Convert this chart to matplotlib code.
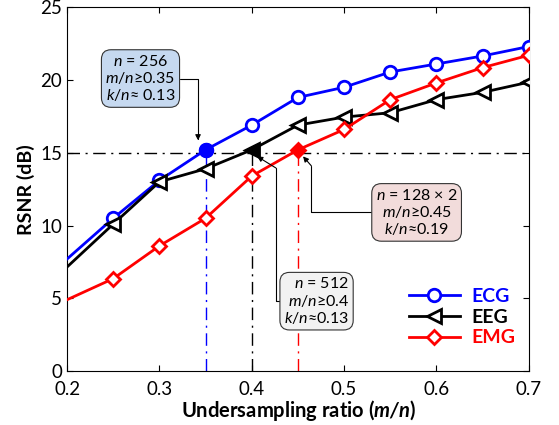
import numpy as np
import matplotlib
matplotlib.use("Agg")
import matplotlib.pyplot as plt

plt.rcParams['font.family'] = ['Lato', 'DejaVu Sans']
plt.rcParams['mathtext.fontset'] = 'custom'
plt.rcParams['mathtext.rm'] = 'Lato'
plt.rcParams['mathtext.it'] = 'Lato:italic'
plt.rcParams['mathtext.bf'] = 'Lato:bold'
plt.rcParams['mathtext.bfit'] = 'Lato:bold:italic'

# data
ratio = [0.2, 0.25, 0.3, 0.35, 0.4, 0.45, 0.5, 0.55, 0.6, 0.65, 0.7]
ecg = [7.7, 10.5, 13.1, 15.2, 16.9, 18.8, 19.5, 20.55, 21.1, 21.65, 22.3]
eeg = [7.15, 10.1, 13.0, 13.9, 15.2, 16.9, 17.45, 17.75, 18.65, 19.15, 19.85]
emg = [4.9, 6.35, 8.6, 10.5, 13.4, 15.2, 16.6, 18.65, 19.8, 20.85, 21.7]

threshold = 15.2
req_ratio = {'ECG': 0.35, 'EEG': 0.4, 'EMG': 0.45}

fig = plt.figure(figsize=(5.59, 4.25), dpi=100)
ax = fig.add_axes([0.12, 0.127, 0.826, 0.856])

# reference lines
ax.axhline(15, color='black', lw=1, ls=(0, (9, 4, 1.5, 4)), zorder=1)
for name, col in [('ECG', 'blue'), ('EEG', 'black'), ('EMG', 'red')]:
    ax.plot([req_ratio[name]] * 2, [0, 15], color=col, lw=1,
            ls=(0, (9, 4, 1.5, 4)), zorder=1)

lw = 2
ax.plot(ratio, ecg, color='blue', lw=lw, marker='o', ms=9, mfc='white',
        mew=2, markevery=list(range(1, len(ratio))), label='ECG', zorder=3)
ax.plot(ratio, eeg, color='black', lw=lw, marker='<', ms=10, mfc='white',
        mew=2, markevery=list(range(1, len(ratio))), label='EEG', zorder=3)
ax.plot(ratio, emg, color='red', lw=lw, marker='D', ms=7.5, mfc='white',
        mew=2, markevery=list(range(1, len(ratio))), label='EMG', zorder=3)

# highlighted points
ax.plot(0.35, ecg[3], 'o', color='blue', ms=10, zorder=4)
ax.plot(0.4, eeg[4], '<', color='black', ms=10, zorder=4)
ax.plot(0.45, emg[5], 'D', color='red', ms=7.5, zorder=4)

ax.set_xlim(0.2, 0.7)
ax.set_ylim(0, 25)
ax.set_xticks([0.2, 0.3, 0.4, 0.5, 0.6, 0.7])
ax.set_yticks([0, 5, 10, 15, 20, 25])
ax.tick_params(direction='in', top=True, right=True, length=4, labelsize=13.5)
ax.tick_params(axis='x', pad=7)
ax.set_xlabel(r'Undersampling ratio ($\mathbfit{m/n}$)', fontsize=14.5,
              fontweight='bold', labelpad=0)
ax.set_ylabel('RSNR (dB)', fontsize=14, fontweight='bold', labelpad=4)

fs = 11.5
# annotation boxes
ax.annotate('$n$ = 256\n$m$/$n$≥0.35\n$k$/$n$≈ 0.13', xy=(0.3418, 15.85),
            xytext=(0.2795, 20.1), ha='center', va='center', fontsize=fs,
            linespacing=1.1,
            bbox=dict(boxstyle='round,pad=0.25,rounding_size=0.6',
                      fc='#c6d9f0', ec='#333333', lw=0.8),
            arrowprops=dict(arrowstyle='-|>', color='black', lw=0.8,
                            mutation_scale=8, shrinkA=0, shrinkB=0,
                            connectionstyle='angle,angleA=0,angleB=90,rad=0'))

ax.annotate('', xy=(0.4058, 14.75), xytext=(0.4262, 13.95),
            arrowprops=dict(arrowstyle='-|>', color='black', lw=0.8,
                            mutation_scale=8, shrinkA=0, shrinkB=0))
ax.annotate('$n$ = 512\n$m$/$n$≥0.4\n$k$/$n$≈0.13', xy=(0.4262, 13.95),
            xytext=(0.5055, 4.8), ha='right', va='center', fontsize=fs,
            linespacing=1.1,
            bbox=dict(boxstyle='round,pad=0.25,rounding_size=0.6',
                      fc='#f2f2f2', ec='#333333', lw=0.8),
            arrowprops=dict(arrowstyle='-', color='black', lw=0.8,
                            shrinkA=0, shrinkB=0,
                            connectionstyle='angle,angleA=180,angleB=90,rad=0'))

ax.annotate('', xy=(0.4555, 14.75), xytext=(0.4645, 14.1),
            arrowprops=dict(arrowstyle='-|>', color='black', lw=0.8,
                            mutation_scale=8, shrinkA=0, shrinkB=0))
ax.annotate('$n$ = 128 × 2\n$m$/$n$≥0.45\n$k$/$n$≈0.19', xy=(0.4645, 14.1),
            xytext=(0.5785, 10.9), ha='center', va='center', fontsize=fs,
            linespacing=1.1,
            bbox=dict(boxstyle='round,pad=0.25,rounding_size=0.6',
                      fc='#f2dcdb', ec='#333333', lw=0.8),
            arrowprops=dict(arrowstyle='-', color='black', lw=0.8,
                            shrinkA=0, shrinkB=0,
                            connectionstyle='angle,angleA=180,angleB=90,rad=0'))

leg = ax.legend(loc='lower right', bbox_to_anchor=(1.0, 0.03), frameon=False,
                prop=dict(size=14, weight='bold'), handlelength=2.6,
                handletextpad=0.6, labelspacing=0.2, borderaxespad=0.3)
for txt, col in zip(leg.get_texts(), ['blue', 'black', 'red']):
    txt.set_color(col)

fig.savefig('out.png', dpi=100)
